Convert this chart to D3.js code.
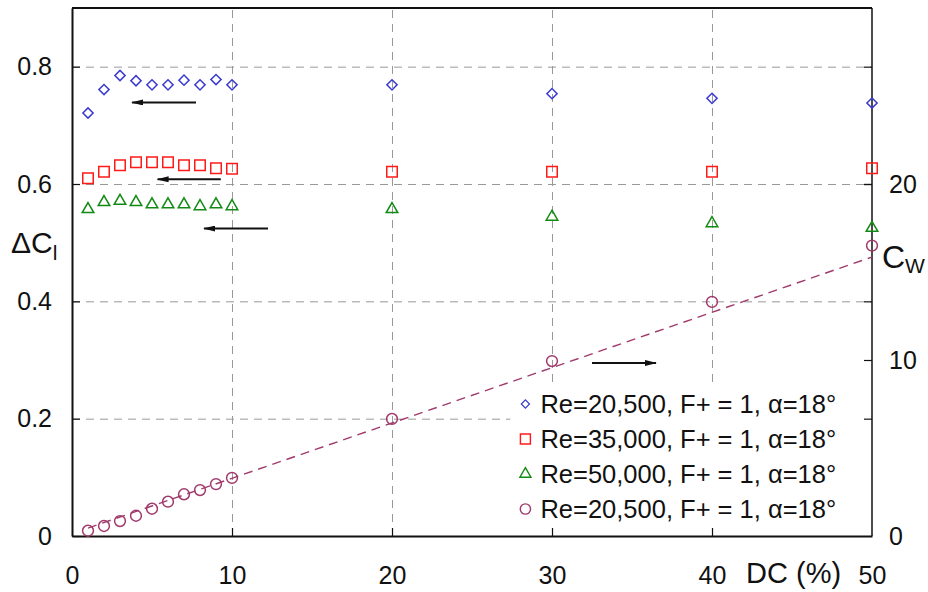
<!DOCTYPE html>
<html>
<head>
<meta charset="utf-8">
<script src="https://cdn.jsdelivr.net/npm/d3@7"></script>
<style>
body { margin: 0; background: #fff; }
text { font-family: "Liberation Sans", Arial, sans-serif; fill: #111; }
</style>
</head>
<body>
<div id="svgContainer"></div>
<script>
// duty cycle (%)
var dc = [1, 2, 3, 4, 5, 6, 7, 8, 9, 10, 20, 30, 40, 50]
// lift increment, left axis
var dcl_re20500 = [0.721, 0.761, 0.785, 0.776, 0.769, 0.769, 0.777, 0.769, 0.778, 0.769, 0.769, 0.754, 0.746, 0.738]
var dcl_re35000 = [0.610, 0.621, 0.632, 0.637, 0.637, 0.637, 0.632, 0.632, 0.627, 0.626, 0.621, 0.621, 0.621, 0.627]
var dcl_re50000 = [0.557, 0.569, 0.571, 0.569, 0.565, 0.565, 0.565, 0.562, 0.565, 0.562, 0.557, 0.544, 0.533, 0.525]
// momentum coefficient, right axis
var cw_re20500 = [0.30, 0.57, 0.85, 1.15, 1.55, 1.95, 2.37, 2.61, 2.95, 3.30, 6.65, 9.94, 13.3, 16.5]
// dashed trend line of Cw (end points)
var cw_fit_x = [1, 50]
var cw_fit_y = [0.45, 15.85]

var legend_labels = [
    "Re=20,500, F+ = 1, \u03b1=18\u00b0",
    "Re=35,000, F+ = 1, \u03b1=18\u00b0",
    "Re=50,000, F+ = 1, \u03b1=18\u00b0",
    "Re=20,500, F+ = 1, \u03b1=18\u00b0"
]
var x_ticks = [0, 10, 20, 30, 40, 50]
var y_ticks = [0, 0.2, 0.4, 0.6, 0.8]
var cw_ticks = [0, 10, 20]

// arrows pointing to the axis each series belongs to
var arrow_from = [7.75, 9.3, 12.25, 32.5]
var arrow_to = [3.75, 5.35, 8.25, 36.5]
var arrow_y = [0.739, 0.608, 0.524, 9.83]
var arrow_axis = ["left", "left", "left", "right"]

function drawChart() {
    let width = 928, height = 592;
    var margin = { top: 8, right: 56, bottom: 56, left: 72 },
        w = width - margin.left - margin.right,
        h = height - margin.top - margin.bottom;

    var svg = d3.select("#svgContainer")
        .append("svg")
        .attr("width", width)
        .attr("height", height)
        .append("g")
        .attr("transform", `translate(${margin.left},${margin.top})`);

    var xScale = d3.scaleLinear().domain([0, 50]).range([0, w]);
    var yScale = d3.scaleLinear().domain([0, 0.9]).range([h, 0]);
    var cwScale = d3.scaleLinear().domain([0, 30]).range([h, 0]);

    var series = [
        { vals: dcl_re20500, scale: yScale, color: "#3a3ad0", shape: "diamond" },
        { vals: dcl_re35000, scale: yScale, color: "#ff1a1a", shape: "square" },
        { vals: dcl_re50000, scale: yScale, color: "#138a13", shape: "triangle" },
        { vals: cw_re20500, scale: cwScale, color: "#a03a6c", shape: "circle" }
    ];

    // grid
    svg.append("g")
        .attr("class", "grid")
        .call(d3.axisLeft(yScale).tickValues(y_ticks.slice(1)).tickSize(-w).tickFormat(""))
        .call(g => g.select(".domain").remove());
    svg.append("g")
        .attr("class", "grid")
        .attr("transform", `translate(0,${h})`)
        .call(d3.axisBottom(xScale).tickValues(x_ticks.slice(1, -1)).tickSize(-h).tickFormat(""))
        .call(g => g.select(".domain").remove());
    svg.selectAll(".grid line")
        .attr("stroke", "#999")
        .attr("stroke-width", 1)
        .attr("stroke-dasharray", "8,6");

    // legend background hides grid
    var lg = { x: xScale(27.4), y: yScale(0.262), w: 0, h: 0 };
    lg.w = w - lg.x;
    lg.h = h - lg.y;
    svg.append("rect")
        .attr("x", lg.x).attr("y", lg.y)
        .attr("width", lg.w).attr("height", lg.h)
        .attr("fill", "#fff");

    // frame
    svg.append("line").attr("x1", 0).attr("x2", w).attr("y1", 0).attr("y2", 0)
        .attr("stroke", "#111").attr("stroke-width", 2);
    svg.append("line").attr("x1", w).attr("x2", w).attr("y1", 0).attr("y2", h)
        .attr("stroke", "#111").attr("stroke-width", 1.5);

    // axes, ticks pointing inwards
    var yAxis = svg.append("g")
        .call(d3.axisLeft(yScale).tickValues(y_ticks).tickSizeInner(-8).tickSizeOuter(0).tickPadding(20)
            .tickFormat(d => d === 0 ? "0" : d.toFixed(1)));
    var xAxis = svg.append("g")
        .attr("transform", `translate(0,${h})`)
        .call(d3.axisBottom(xScale).tickValues(x_ticks).tickSizeInner(-8).tickSizeOuter(0).tickPadding(30));
    var cwAxis = svg.append("g")
        .attr("transform", `translate(${w},0)`)
        .call(d3.axisRight(cwScale).tickValues(cw_ticks).tickSizeInner(-8).tickSizeOuter(0).tickPadding(15));
    // mirrored left ticks on the right side
    svg.append("g")
        .attr("transform", `translate(${w},0)`)
        .call(d3.axisRight(yScale).tickValues(y_ticks.slice(1)).tickSizeInner(-8).tickSizeOuter(0).tickFormat(""))
        .call(g => g.select(".domain").remove());

    [yAxis, xAxis].forEach(a => a.select(".domain").attr("stroke", "#111").attr("stroke-width", 2));
    cwAxis.select(".domain").remove();
    svg.selectAll(".tick line").filter(function () { return !this.closest(".grid"); })
        .attr("stroke", "#111").attr("stroke-width", 1.2);
    svg.selectAll(".tick text").filter(function () { return !this.closest(".grid"); })
        .style("font-size", "25px")
        .attr("fill", "#111");
    xAxis.selectAll(".tick text").attr("dy", "0.35em").attr("y", 39);
    xAxis.selectAll(".tick line").filter(d => d === 0 || d === 50).remove();
    cwAxis.selectAll(".tick line").filter(d => d === 0).remove();
    cwAxis.selectAll(".tick text").attr("x", 17);

    // axis titles
    var yt = svg.append("text")
        .attr("x", -61).attr("y", yScale(0.5))
        .attr("dy", "0.35em")
        .style("font-size", "30px");
    yt.append("tspan").text("\u0394C");
    yt.append("tspan").attr("dy", 7).style("font-size", "21px").text("l");

    var ct = svg.append("text")
        .attr("x", w + 10).attr("y", cwScale(15.2))
        .style("font-size", "32px");
    ct.append("tspan").text("C");
    ct.append("tspan").attr("dy", 5).style("font-size", "21px").text("W");

    svg.append("text")
        .attr("x", xScale(45.1)).attr("y", h + 37)
        .attr("dy", "0.35em")
        .attr("text-anchor", "middle")
        .style("font-size", "29px")
        .text("DC (%)");

    // trend line
    svg.append("path")
        .datum(d3.zip(cw_fit_x, cw_fit_y))
        .attr("fill", "none")
        .attr("stroke", "#a03a6c")
        .attr("stroke-width", 1.4)
        .attr("stroke-dasharray", "9,6")
        .attr("d", d3.line().x(d => xScale(d[0])).y(d => cwScale(d[1])));

    // markers
    function symbolPath(shape) {
        if (shape === "diamond") return d3.symbol(d3.symbolSquare, 52)();
        if (shape === "square") return d3.symbol(d3.symbolSquare, 110)();
        if (shape === "triangle") return d3.symbol(d3.symbolTriangle, 58)();
        return d3.symbol(d3.symbolCircle, 92)();
    }
    series.forEach(s => {
        svg.append("g")
            .selectAll("path")
            .data(d3.zip(dc, s.vals))
            .enter()
            .append("path")
            .attr("d", symbolPath(s.shape))
            .attr("transform", d => `translate(${xScale(d[0])},${s.scale(d[1])})` + (s.shape === "diamond" ? " rotate(45)" : ""))
            .attr("fill", "none")
            .attr("stroke", s.color)
            .attr("stroke-width", 1.5);
    });

    // arrows
    svg.append("defs").append("marker")
        .attr("id", "arrowhead")
        .attr("viewBox", "0 0 12 6")
        .attr("refX", 11).attr("refY", 3)
        .attr("markerWidth", 12).attr("markerHeight", 6)
        .attr("markerUnits", "userSpaceOnUse")
        .attr("orient", "auto")
        .append("path")
        .attr("d", "M0,0L12,3L0,6Z")
        .attr("fill", "#111");
    arrow_from.forEach((x0, i) => {
        var sc = arrow_axis[i] === "left" ? yScale : cwScale;
        svg.append("line")
            .attr("x1", xScale(x0)).attr("x2", xScale(arrow_to[i]))
            .attr("y1", sc(arrow_y[i])).attr("y2", sc(arrow_y[i]))
            .attr("stroke", "#111")
            .attr("stroke-width", 2)
            .attr("marker-end", "url(#arrowhead)");
    });

    // legend
    var legend = svg.append("g")
        .selectAll("g")
        .data(series)
        .enter()
        .append("g")
        .attr("transform", (d, i) => `translate(${lg.x + 15},${yScale(0.225) + i * 35})`);
    legend.append("path")
        .attr("d", d => symbolPath(d.shape))
        .attr("transform", d => d.shape === "diamond" ? "rotate(45) scale(0.8)" : "scale(0.95)")
        .attr("fill", "none")
        .attr("stroke", d => d.color)
        .attr("stroke-width", 1.5);
    legend.append("text")
        .attr("x", 15)
        .attr("dy", "0.35em")
        .style("font-size", "25.5px")
        .text((d, i) => legend_labels[i]);
}
drawChart();
</script>
</body>
</html>
